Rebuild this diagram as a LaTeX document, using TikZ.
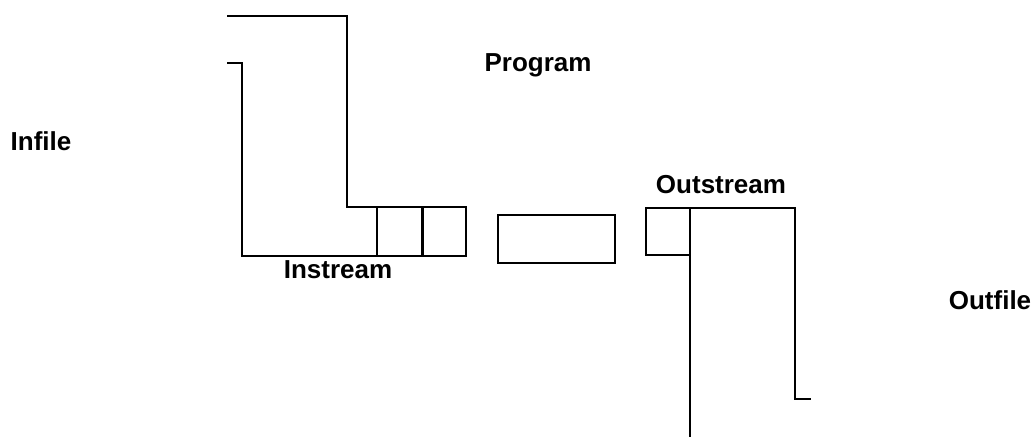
\documentclass[tikz,border=0pt]{standalone}
\usepackage{fontspec}
\setmainfont{Liberation Sans}
\begin{document}
\begin{tikzpicture}[x=1pt,y=-1pt,
  pipe/.style={line width=2.4pt, line join=miter},
  cell/.style={draw, line width=2.4pt, inner sep=0pt, outer sep=0pt, anchor=north west},
  lbl/.style={font=\fontsize{26}{30}\selectfont\bfseries, inner sep=0pt}]
\useasboundingbox (0,0) rectangle (1033,442);
% boxes
\node[cell, minimum width=45pt, minimum height=49pt] (b1) at (377,207) {};
\node[cell, minimum width=43pt, minimum height=49pt] (b2) at (423,207) {};
\node[cell, minimum width=117pt, minimum height=48pt] (mid) at (498,215) {};
\node[cell, minimum width=44pt, minimum height=47pt] (ob) at (646,208) {};
% infile pipe
\coordinate (i1) at (227,16);
\coordinate (i2) at (227,63);
\draw[pipe] (i1) -- (347,16) -- (347,207) -- (b1.north west);
\draw[pipe] (i2) -- (242,63) -- (242,256) -- (b1.south west);
% outfile pipe
\coordinate (o1) at (811,399);
\coordinate (o2) at (690,437);
\draw[pipe] (ob.north east) -- (795,208) -- (795,399) -- (o1);
\draw[pipe] (ob.south east) -- (o2);
% labels
\node[lbl] (infile) at (41,141) {Infile};
\node[lbl] (program) at (538,65) {Program};
\node[lbl] (instream) at (338,270) {Instream};
\node[lbl] (outstream) at (721,185) {Outstream};
\node[lbl] (outfile) at (990,300) {Outfile};
\end{tikzpicture}
\end{document}
